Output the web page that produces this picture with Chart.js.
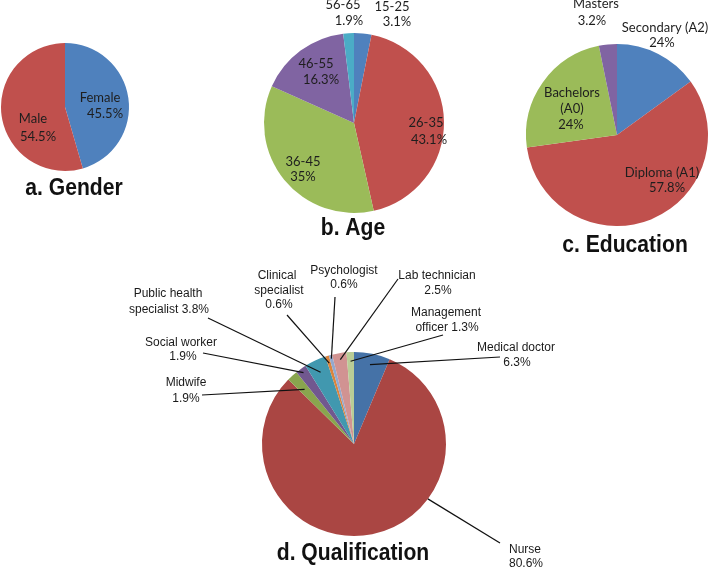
<!DOCTYPE html>
<html>
<head>
<meta charset="UTF-8">
<script src="https://cdn.jsdelivr.net/npm/chart.js"></script>
<style>
    body { margin: 0; background: #fff; }
    #wrap { position: relative; width: 709px; height: 571px; overflow: hidden; }
    #wrap canvas { position: absolute; left: 0; top: 0; }
</style>
</head>
<body>
<div id="wrap">
    <canvas id="genderChart" width="709" height="571"></canvas>
    <canvas id="ageChart" width="709" height="571"></canvas>
    <canvas id="educationChart" width="709" height="571"></canvas>
    <canvas id="qualificationChart" width="709" height="571"></canvas>
</div>

<script>
    // data
    const genderLabels = ['Female', 'Male'];
    const genderValues = [45.5, 54.5];

    const ageLabels = ['15-25', '26-35', '36-45', '46-55', '56-65'];
    const ageValues = [3.1, 43.1, 35, 16.3, 1.9];

    const educationLabels = ['Secondary (A2)', 'Diploma (A1)', 'Bachelors (A0)', 'Masters'];
    const educationValues = [15.0, 57.8, 24, 3.2];          // slice sizes as drawn
    const educationPrinted = ['24%', '57.8%', '24%', '3.2%']; // percentages as printed

    const qualLabels = ['Medical doctor', 'Nurse', 'Midwife', 'Social worker', 'Public health specialist',
        'Clinical specialist', 'Psychologist', 'Lab technician', 'Management officer'];
    const qualValues = [6.3, 80.6, 1.9, 1.9, 3.8, 0.6, 0.6, 2.5, 1.3];

    const officeColors = ['#4F81BD', '#C0504D', '#9BBB59', '#8064A2', '#4BACC6'];
    const qualColors = ['#4572A7', '#AA4643', '#89A54E', '#71588F', '#4198AF',
        '#DB843D', '#93A9CF', '#D19392', '#B9CD96'];

    const pct = arr => arr.map(v => v + '%');

    // place a pie with centre (cx, cy) and radius r on the full-page canvas
    function padFor(cx, cy, r) {
        return { left: cx - r, top: cy - r, right: 709 - (cx + r), bottom: 571 - (cy + r) };
    }

    function textPlugin(cfg) {
        return {
            id: 'sliceText',
            afterDraw(chart) {
                const ctx = chart.ctx;
                const meta = chart.getDatasetMeta(0);
                ctx.save();
                // leader lines
                cfg.items.forEach(it => {
                    if (!it.from) return;
                    const arc = meta.data[it.i];
                    const t = it.t !== undefined ? it.t : 0.5;
                    const f = it.f !== undefined ? it.f : 0.88;
                    const a = arc.startAngle + (arc.endAngle - arc.startAngle) * t;
                    ctx.beginPath();
                    ctx.moveTo(it.from[0], it.from[1]);
                    ctx.lineTo(arc.x + Math.cos(a) * arc.outerRadius * f, arc.y + Math.sin(a) * arc.outerRadius * f);
                    ctx.strokeStyle = '#111';
                    ctx.lineWidth = 1.2;
                    ctx.stroke();
                });
                ctx.font = cfg.font;
                ctx.fillStyle = cfg.color;
                ctx.textAlign = 'center';
                ctx.textBaseline = 'middle';
                cfg.items.forEach(it => {
                    it.lines.forEach((s, k) => {
                        ctx.fillText(s.replace('{p}', cfg.percents[it.i]), it.pos[k][0], it.pos[k][1]);
                    });
                });
                // panel title, slightly condensed like the original
                ctx.font = 'bold 24px "Liberation Sans", Arial, sans-serif';
                ctx.fillStyle = '#111';
                ctx.translate(cfg.title.x, cfg.title.y);
                ctx.scale(0.88, 1);
                ctx.fillText(cfg.title.text, 0, 0);
                ctx.restore();
            }
        };
    }

    function makePie(id, labels, values, colors, geom, text) {
        return new Chart(document.getElementById(id), {
            type: 'pie',
            data: {
                labels: labels,
                datasets: [{
                    data: values,
                    backgroundColor: colors,
                    borderWidth: 0,
                    hoverOffset: 0
                }]
            },
            options: {
                responsive: false,
                animation: false,
                events: [],
                layout: { padding: padFor(geom[0], geom[1], geom[2]) },
                plugins: {
                    legend: { display: false },
                    tooltip: { enabled: false }
                }
            },
            plugins: [textPlugin(text)]
        });
    }

    const smallFont = '13px Lato, "Open Sans", sans-serif';

    makePie('genderChart', genderLabels, genderValues, officeColors, [65, 107, 64], {
        font: smallFont, color: '#1e1e1e', percents: pct(genderValues),
        title: { text: 'a. Gender', x: 74, y: 188 },
        items: [
            { i: 0, lines: ['Female', '{p}'], pos: [[100, 98], [105, 114]] },
            { i: 1, lines: ['Male', '{p}'], pos: [[33, 119], [38, 137]] }
        ]
    });

    makePie('ageChart', ageLabels, ageValues, officeColors, [354, 123, 90], {
        font: smallFont, color: '#1e1e1e', percents: pct(ageValues),
        title: { text: 'b. Age', x: 353, y: 228 },
        items: [
            { i: 0, lines: ['15-25', '{p}'], pos: [[392, 7], [397, 22]] },
            { i: 1, lines: ['26-35', '{p}'], pos: [[426, 123], [429, 140]] },
            { i: 2, lines: ['36-45', '{p}'], pos: [[303, 162], [303, 177]] },
            { i: 3, lines: ['46-55', '{p}'], pos: [[316, 64], [321, 80]] },
            { i: 4, lines: ['56-65', '{p}'], pos: [[343, 5], [349, 21]] }
        ]
    });

    makePie('educationChart', educationLabels, educationValues, officeColors, [617, 135, 91], {
        font: smallFont, color: '#1e1e1e', percents: educationPrinted,
        title: { text: 'c. Education', x: 625, y: 245 },
        items: [
            { i: 0, lines: ['Secondary (A2)', '{p}'], pos: [[665, 28], [662, 43]] },
            { i: 1, lines: ['Diploma (A1)', '{p}'], pos: [[662, 173], [667, 188]] },
            { i: 2, lines: ['Bachelors', '(A0)', '{p}'], pos: [[572, 93], [572, 109], [571, 125]] },
            { i: 3, lines: ['Masters', '{p}'], pos: [[596, 4], [592, 21]] }
        ]
    });

    makePie('qualificationChart', qualLabels, qualValues, qualColors, [354, 444, 92], {
        font: '12px "Liberation Sans", Arial, sans-serif', color: '#1a1a1a', percents: pct(qualValues),
        title: { text: 'd. Qualification', x: 353, y: 553 },
        items: [
            { i: 0, lines: ['Medical doctor', '{p}'], pos: [[516, 348], [517, 363]], from: [500, 357] },
            { i: 1, lines: ['Nurse', '{p}'], pos: [[525, 550], [526, 564]], from: [500, 543], t: 0.356, f: 1.0 },
            { i: 2, lines: ['Midwife', '{p}'], pos: [[186, 383], [186, 399]], from: [202, 395], f: 0.8 },
            { i: 3, lines: ['Social worker', '{p}'], pos: [[181, 343], [183, 357]], from: [203, 353], f: 0.95 },
            { i: 4, lines: ['Public health', 'specialist {p}'], pos: [[168, 294], [169, 310]], from: [208, 318], f: 0.86 },
            { i: 5, lines: ['Clinical', 'specialist', '{p}'], pos: [[277, 276], [279, 291], [279, 305]], from: [287, 315], f: 0.92 },
            { i: 6, lines: ['Psychologist', '{p}'], pos: [[344, 271], [344, 285]], from: [335, 297], f: 0.96 },
            { i: 7, lines: ['Lab technician', '{p}'], pos: [[437, 276], [438, 291]], from: [398, 279], f: 0.93 },
            { i: 8, lines: ['Management', 'officer {p}'], pos: [[446, 313], [447, 328]], from: [443, 335], f: 0.9 }
        ]
    });
</script>
</body>
</html>
